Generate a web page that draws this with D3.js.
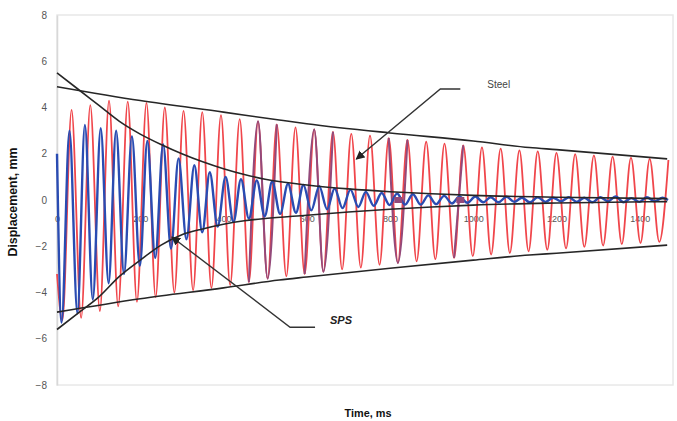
<!DOCTYPE html>
<html lang="en">
<head>
    <meta charset="UTF-8">
    <title>Displacement vs time - Steel / SPS</title>
    <script src="https://cdnjs.cloudflare.com/ajax/libs/d3/7.8.5/d3.min.js"></script>
    <style>
        body { margin: 0; background: #fff; }
        svg { display: block; font-family: "Liberation Sans", Arial, sans-serif; }
        .tick text { fill: #555; }
    </style>
</head>
<body>
    <svg id="chart" width="677" height="421"></svg>

    <script>
        // ---- data (time in ms, displacement in mm) ----
        const yTicks = [-8, -6, -4, -2, 0, 2, 4, 6, 8];
        const xTicks = [0, 200, 400, 600, 800, 1000, 1200, 1400];

        // steel response: start point then alternating troughs / peaks
        const steel = [
            [0, -3.2], [13, -5.2], [35, 3.9], [58, -5.1], [80, 4.1], [103, -4.8], [125, 4.3],
            [147, -4.6], [170, 4.25], [192, -4.4], [215, 4.2], [237, -4.2], [259, 4.0],
            [282, -4.0], [304, 3.85], [327, -3.9], [349, 3.8], [371, -3.8], [394, 3.67],
            [416, -3.68], [439, 3.5], [461, -3.55], [483, 3.4], [506, -3.4], [528, 3.27],
            [551, -3.3], [573, 3.14], [595, -3.2], [618, 3.05], [640, -3.1], [663, 2.95],
            [685, -3.0], [707, 2.86], [730, -2.92], [752, 2.78], [775, -2.8], [797, 2.68],
            [819, -2.72], [842, 2.6], [864, -2.65], [887, 2.52], [909, -2.56], [931, 2.44],
            [954, -2.5], [976, 2.36], [999, -2.43], [1021, 2.28], [1043, -2.36], [1066, 2.22],
            [1088, -2.29], [1111, 2.15], [1133, -2.22], [1155, 2.1], [1178, -2.15], [1200, 2.04],
            [1223, -2.09], [1245, 1.98], [1267, -2.03], [1290, 1.93], [1312, -1.97], [1335, 1.88],
            [1357, -1.91], [1379, 1.83], [1402, -1.86], [1424, 1.78], [1447, -1.81], [1469, 1.73]
        ];

        // SPS response
        const sps = [
            [0, 2.0], [11, -5.3], [30, 3.0], [49, -4.9], [67, 3.25], [86, -4.3], [105, 3.1],
            [124, -3.6], [142, 3.0], [161, -3.2], [180, 2.75], [199, -2.85], [217, 2.55],
            [236, -2.5], [255, 2.4], [274, -2.1], [292, 1.8], [311, -1.7], [330, 1.5],
            [349, -1.4], [367, 1.2], [386, -1.15], [405, 1.0], [424, -0.95], [442, 0.9],
            [461, -0.8], [480, 0.85], [499, -0.7], [517, 0.8], [536, -0.6], [555, 0.7],
            [574, -0.55], [592, 0.65], [611, -0.45], [630, 0.6], [649, -0.4], [667, 0.5],
            [686, -0.35], [705, 0.45], [724, -0.3], [742, 0.35], [761, -0.25], [780, 0.3],
            [799, -0.22], [817, 0.28], [836, -0.2], [855, 0.25], [874, -0.2], [892, 0.2],
            [911, -0.18], [930, 0.18], [949, -0.15], [967, 0.15], [986, -0.12], [1005, 0.15],
            [1024, -0.1], [1042, 0.12], [1061, -0.1], [1080, 0.14], [1099, -0.08], [1117, 0.1],
            [1136, -0.1], [1155, 0.12], [1174, -0.08], [1192, 0.1], [1211, -0.06], [1230, 0.12],
            [1249, -0.08], [1267, 0.1], [1286, -0.1], [1305, 0.12], [1324, -0.06], [1342, 0.15],
            [1361, -0.1], [1380, 0.08], [1399, -0.08], [1417, 0.12], [1436, -0.06], [1455, 0.1],
            [1468, 0.0]
        ];

        // black decay envelopes
        const steelUpper = [[0, 4.9], [200, 4.3], [400, 3.8], [534, 3.46], [600, 3.3], [800, 2.9], [1000, 2.55], [1135, 2.27], [1200, 2.18], [1466, 1.78]];
        const steelLower = [[0, -4.85], [200, -4.27], [400, -3.8], [534, -3.46], [600, -3.33], [800, -2.95], [1000, -2.6], [1135, -2.38], [1200, -2.3], [1466, -1.95]];
        const spsUpper = [[0, 5.5], [50, 4.8], [100, 4.1], [150, 3.4], [200, 2.85], [250, 2.4], [300, 2.0], [350, 1.65], [400, 1.35], [450, 1.1], [500, 0.9], [600, 0.65], [700, 0.48], [800, 0.36], [900, 0.27], [1000, 0.2], [1200, 0.12], [1466, 0.06]];
        const spsLower = [[0, -5.6], [50, -4.9], [100, -4.2], [150, -3.3], [200, -2.6], [250, -1.95], [300, -1.5], [350, -1.25], [400, -1.05], [450, -0.9], [500, -0.8], [600, -0.66], [700, -0.52], [800, -0.4], [900, -0.3], [1000, -0.22], [1200, -0.13], [1466, -0.07]];

        // stretches of the steel trace that print in mauve, and the two small mauve blocks
        const mauveSpans = [[461, 528], [595, 663], [797, 842], [954, 976]];
        const mauveBlocks = [820, 969];

        // callouts: [label point, elbow, end of short rule, arrow tip]
        const callouts = [
            { text: "Steel", label: [1034, 4.85], elbow: [921, 4.8], rule: [969, 4.8], tip: [719, 1.77], bold: false },
            { text: "SPS", label: [656, -5.35], elbow: [560, -5.5], rule: [620, -5.5], tip: [276, -1.6], bold: true }
        ];

        // ---- layout ----
        const svg = d3.select("#chart");
        const margin = { left: 57, right: 4, top: 15, bottom: 36 };
        const width = 677, height = 421;

        const x = d3.scaleLinear().domain([0, 1480]).range([margin.left, width - margin.right]);
        const y = d3.scaleLinear().domain([-8, 8]).range([height - margin.bottom, margin.top]);

        // faint plot frame
        svg.append("rect")
            .attr("x", x(0)).attr("y", y(8))
            .attr("width", x(1480) - x(0)).attr("height", y(-8) - y(8))
            .attr("fill", "none").attr("stroke", "#e8e8e8").attr("stroke-width", 1.5);

        // y axis
        const yAxis = svg.append("g")
            .attr("transform", `translate(${x(0)},0)`)
            .call(d3.axisLeft(y).tickValues(yTicks).tickSize(0).tickPadding(10));
        yAxis.select(".domain").attr("stroke", "#d8d8d8").attr("stroke-width", 1.5);
        yAxis.selectAll("text").attr("font-size", 10);

        // x axis labels sit under the zero line
        const xAxis = svg.append("g")
            .attr("transform", `translate(0,${y(0)})`)
            .call(d3.axisBottom(x).tickValues(xTicks).tickFormat(d3.format("d")).tickSize(0).tickPadding(16));
        xAxis.select(".domain").remove();
        xAxis.selectAll("text").attr("font-size", 9);

        const line = d3.line()
            .x(d => x(d[0]))
            .y(d => y(d[1]))
            .curve(d3.curveMonotoneX);

        // steel trace
        svg.append("path")
            .datum(steel)
            .attr("fill", "none")
            .attr("stroke", "#f0464b")
            .attr("stroke-width", 1.8)
            .attr("d", line);

        // mauve parts of the steel trace
        mauveSpans.forEach(span => {
            svg.append("path")
                .datum(steel.filter(d => d[0] >= span[0] && d[0] <= span[1]))
                .attr("fill", "none")
                .attr("stroke", "#93497a")
                .attr("stroke-width", 2)
                .attr("d", line);
        });

        // SPS trace
        svg.append("path")
            .datum(sps)
            .attr("fill", "none")
            .attr("stroke", "#2a4cb2")
            .attr("stroke-width", 2.4)
            .attr("d", line);

        svg.selectAll("rect.block")
            .data(mauveBlocks)
            .enter()
            .append("rect")
            .attr("class", "block")
            .attr("x", d => x(d) - 4)
            .attr("y", y(0) - 3)
            .attr("width", 8)
            .attr("height", 6)
            .attr("fill", "#93497a");

        // envelopes
        [steelUpper, steelLower, spsUpper, spsLower].forEach(env => {
            svg.append("path")
                .datum(env)
                .attr("fill", "none")
                .attr("stroke", "#262626")
                .attr("stroke-width", 1.6)
                .attr("d", line);
        });

        // arrow marker for the callouts
        svg.append("defs").append("marker")
            .attr("id", "arrow")
            .attr("viewBox", "0 0 10 10")
            .attr("refX", 9).attr("refY", 5)
            .attr("markerWidth", 9).attr("markerHeight", 9)
            .attr("markerUnits", "userSpaceOnUse")
            .attr("orient", "auto")
            .append("path")
            .attr("d", "M0,0 L10,5 L0,10 z")
            .attr("fill", "#222");

        callouts.forEach(c => {
            svg.append("polyline")
                .attr("points", [c.rule, c.elbow, c.tip].map(p => `${x(p[0])},${y(p[1])}`).join(" "))
                .attr("fill", "none")
                .attr("stroke", "#333")
                .attr("stroke-width", 1.4)
                .attr("marker-end", "url(#arrow)");

            svg.append("text")
                .attr("x", x(c.label[0]))
                .attr("y", y(c.label[1]))
                .attr("font-size", c.bold ? 11 : 10)
                .attr("font-weight", c.bold ? "bold" : "normal")
                .attr("font-style", c.bold ? "italic" : "normal")
                .attr("fill", c.bold ? "#222" : "#444")
                .text(c.text);
        });

        // axis titles
        svg.append("text")
            .attr("transform", `translate(17,${y(0) + 2}) rotate(-90)`)
            .attr("text-anchor", "middle")
            .attr("font-size", 12)
            .attr("font-weight", "bold")
            .attr("textLength", 109)
            .attr("lengthAdjust", "spacingAndGlyphs")
            .attr("fill", "#111")
            .text("Displacement, mm");

        svg.append("text")
            .attr("x", 368)
            .attr("y", 417)
            .attr("text-anchor", "middle")
            .attr("font-size", 11)
            .attr("font-weight", "bold")
            .attr("textLength", 47)
            .attr("lengthAdjust", "spacingAndGlyphs")
            .attr("fill", "#111")
            .text("Time, ms");
    </script>
</body>
</html>
